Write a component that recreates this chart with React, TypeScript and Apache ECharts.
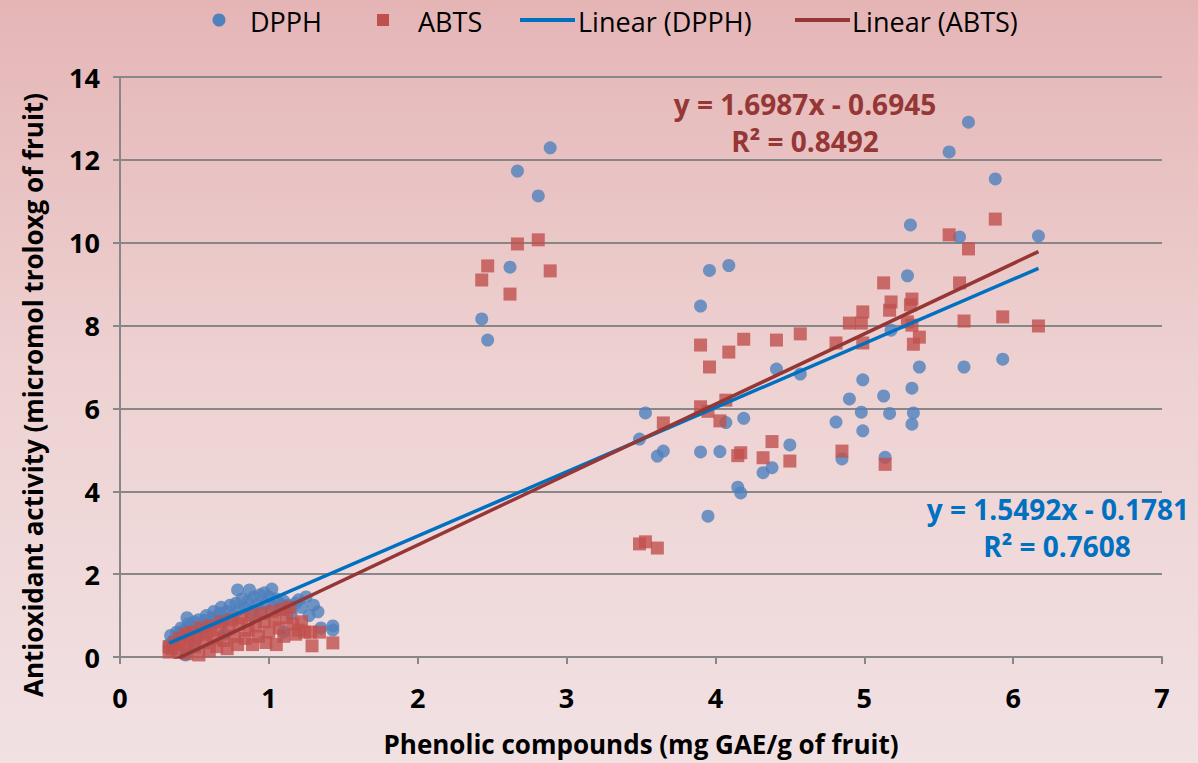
import React, { useEffect, useRef } from "react";
import * as echarts from "echarts";

// DPPH observations [phenolics, activity]
const dpphLow: number[][] = [
  [0.33, 0.3], [0.34, 0.52], [0.36, 0.4], [0.38, 0.6], [0.4, 0.55], [0.41, 0.7], [0.43, 0.65], [0.44, 0.05],
  [0.45, 0.95], [0.46, 0.8], [0.48, 0.75], [0.5, 0.85], [0.52, 0.7], [0.53, 0.9], [0.55, 0.6], [0.57, 0.88],
  [0.58, 1.0], [0.6, 0.8], [0.62, 0.95], [0.63, 1.1], [0.65, 0.9], [0.67, 1.05], [0.68, 1.2], [0.7, 0.95],
  [0.72, 1.1], [0.74, 1.25], [0.76, 1.0], [0.78, 1.3], [0.79, 1.62], [0.8, 1.15], [0.82, 1.4], [0.84, 1.2],
  [0.86, 1.35], [0.87, 1.62], [0.88, 1.05], [0.9, 1.45], [0.92, 1.25], [0.94, 1.5], [0.95, 1.1], [0.97, 1.55],
  [0.98, 1.3], [1.0, 1.45], [1.02, 1.64], [1.03, 1.2], [1.05, 1.4], [1.07, 1.3], [1.09, 1.15], [1.1, 1.35],
  [1.13, 1.25], [1.15, 1.05], [1.18, 1.3], [1.2, 1.38], [1.22, 1.2], [1.25, 1.45], [1.27, 1.0], [1.3, 1.25],
  [1.33, 1.09], [1.35, 0.7], [1.43, 0.75], [1.43, 0.65], [0.5, 0.3], [0.7, 0.55], [1.1, 0.6],
];
const dpphMid: number[][] = [
  [2.43, 8.16], [2.47, 7.65], [2.62, 9.41], [2.67, 11.73], [2.81, 11.13], [2.89, 12.29],
  [3.49, 5.26], [3.53, 5.89], [3.61, 4.85], [3.65, 4.97], [3.9, 4.95], [3.9, 8.47], [3.95, 3.4], [3.96, 9.33],
  [4.03, 4.96], [4.07, 5.66], [4.09, 9.45], [4.15, 4.1], [4.17, 3.96], [4.19, 5.76], [4.32, 4.45], [4.38, 4.57],
  [4.41, 6.95], [4.5, 5.12], [4.57, 6.83],
];
const dpphHigh: number[][] = [
  [4.81, 5.67], [4.85, 4.78], [4.9, 6.23], [4.98, 5.91], [4.99, 5.46], [4.99, 6.69], [5.13, 6.3], [5.14, 4.82],
  [5.17, 5.88], [5.18, 7.89], [5.29, 9.2], [5.31, 10.43], [5.32, 6.49], [5.33, 5.89], [5.32, 5.62], [5.37, 7.0],
  [5.57, 12.19], [5.64, 10.14], [5.67, 7.0], [5.7, 12.91], [5.88, 11.54], [5.93, 7.19], [6.17, 10.16],
];

// ABTS observations [phenolics, activity]
const abtsLow: number[][] = [
  [0.33, 0.12], [0.33, 0.25], [0.35, 0.2], [0.37, 0.35], [0.39, 0.15], [0.4, 0.45], [0.42, 0.3], [0.44, 0.55],
  [0.45, 0.08], [0.46, 0.4], [0.48, 0.6], [0.5, 0.25], [0.51, 0.5], [0.53, 0.05], [0.54, 0.7], [0.56, 0.35],
  [0.58, 0.55], [0.6, 0.15], [0.61, 0.75], [0.63, 0.45], [0.65, 0.25], [0.66, 0.65], [0.68, 0.85], [0.7, 0.4],
  [0.72, 0.2], [0.73, 0.7], [0.75, 0.9], [0.77, 0.5], [0.79, 0.3], [0.8, 0.8], [0.82, 0.95], [0.84, 0.45],
  [0.86, 0.65], [0.88, 1.0], [0.89, 0.3], [0.91, 0.75], [0.93, 0.5], [0.95, 1.05], [0.97, 0.85], [0.98, 0.35],
  [1.0, 0.6], [1.02, 1.1], [1.04, 0.9], [1.05, 0.3], [1.07, 0.7], [1.09, 1.15], [1.1, 0.5], [1.12, 0.95],
  [1.14, 1.2], [1.16, 0.8], [1.18, 0.55], [1.2, 0.65], [1.22, 0.85], [1.24, 0.6], [1.28, 0.6], [1.29, 0.27],
  [1.34, 0.6], [1.43, 0.34],
];
const abtsMid: number[][] = [
  [2.43, 9.1], [2.47, 9.44], [2.62, 8.76], [2.67, 9.97], [2.81, 10.07], [2.89, 9.32],
  [3.49, 2.73], [3.53, 2.78], [3.61, 2.63], [3.65, 5.65], [3.9, 6.04], [3.9, 7.53], [3.95, 5.93], [3.96, 7.0],
  [4.03, 5.7], [4.07, 6.2], [4.09, 7.36], [4.15, 4.86], [4.17, 4.93], [4.19, 7.67], [4.32, 4.81], [4.38, 5.2],
  [4.41, 7.65], [4.5, 4.73], [4.57, 7.8],
];
const abtsHigh: number[][] = [
  [4.81, 7.58], [4.85, 4.97], [4.9, 8.06], [4.98, 8.06], [4.99, 8.33], [4.99, 7.58], [5.13, 9.03], [5.14, 4.65],
  [5.17, 8.37], [5.18, 8.57], [5.29, 8.09], [5.31, 8.5], [5.32, 8.64], [5.32, 8.01], [5.33, 7.55], [5.37, 7.72],
  [5.57, 10.19], [5.64, 9.03], [5.67, 8.11], [5.7, 9.85], [5.88, 10.57], [5.93, 8.21], [6.17, 7.99],
];

const dpphFit = { slope: 1.5492, intercept: -0.1781, r2: 0.7608 };
const abtsFit = { slope: 1.6987, intercept: -0.6945, r2: 0.8492 };

const xTicks = { min: 0, max: 7, interval: 1 };
const yTicks = { min: 0, max: 14, interval: 2 };

const C_DPPH = "#4f81bd";
const C_ABTS = "#c0504d";
const C_LDPPH = "#0070c0";
const C_LABTS = "#953735";
const FONT = "'Open Sans', 'Liberation Sans', sans-serif";

function trend(data: number[][], fit: { slope: number; intercept: number }) {
  const xs = data.map((d) => d[0]);
  const lo = Math.min(...xs);
  const hi = Math.max(...xs);
  return [
    [lo, fit.slope * lo + fit.intercept],
    [hi, fit.slope * hi + fit.intercept],
  ];
}

export default function App() {
  const ref = useRef<HTMLDivElement>(null);
  useEffect(() => {
    document.body.style.margin = "0";
    const chart = echarts.init(ref.current!, undefined, { renderer: "svg" });
    const dpph = [...dpphLow, ...dpphMid, ...dpphHigh];
    const abts = [...abtsLow, ...abtsMid, ...abtsHigh];
    const fmt = (f: { slope: number; intercept: number }) =>
      `y = ${f.slope.toFixed(4)}x - ${Math.abs(f.intercept).toFixed(4)}`;
    const gray = "#878787";
    const legendFont = `27px ${FONT}`;
    const annFont = `bold 28px ${FONT}`;
    chart.setOption({
      animation: false,
      backgroundColor: new echarts.graphic.LinearGradient(0, 0, 0, 1, [
        { offset: 0, color: "#e5b5b6" },
        { offset: 0.5, color: "#eed2d2" },
        { offset: 1, color: "#f1e1e3" },
      ]),
      grid: { left: 120, right: 36, top: 77, bottom: 106 },
      xAxis: {
        type: "value",
        ...xTicks,
        name: "Phenolic compounds (mg GAE/g of fruit)",
        nameLocation: "middle",
        nameGap: 74,
        nameTextStyle: { fontFamily: FONT, fontWeight: "bold", fontSize: 26, color: "#000" },
        axisLine: { show: true, lineStyle: { color: gray, width: 2 } },
        axisTick: { show: true, length: 7, lineStyle: { color: gray, width: 2 } },
        axisLabel: { fontFamily: FONT, fontWeight: "bold", fontSize: 27, color: "#000", margin: 27 },
        splitLine: { show: false },
      },
      yAxis: {
        type: "value",
        ...yTicks,
        name: "Antioxidant activity (micromol troloxg of fruit)",
        nameLocation: "middle",
        nameGap: 74,
        nameTextStyle: { fontFamily: FONT, fontWeight: "bold", fontSize: 26, color: "#000", padding: [0, 56, 0, 0] },
        axisLine: { show: true, lineStyle: { color: gray, width: 2 } },
        axisTick: { show: true, length: 7, lineStyle: { color: gray, width: 2 } },
        axisLabel: { fontFamily: FONT, fontWeight: "bold", fontSize: 27, color: "#000", margin: 20 },
        splitLine: { show: true, lineStyle: { color: gray, width: 2 } },
      },
      series: [
        { name: "DPPH", type: "scatter", data: dpph, symbol: "circle", symbolSize: 13, itemStyle: { color: C_DPPH } },
        { name: "ABTS", type: "scatter", data: abts, symbol: "rect", symbolSize: 13, itemStyle: { color: C_ABTS } },
        {
          name: "Linear (DPPH)", type: "line", data: trend(dpph, dpphFit), symbol: "none", clip: true,
          lineStyle: { color: C_LDPPH, width: 3.5 }, z: 5,
        },
        {
          name: "Linear (ABTS)", type: "line", data: trend(abts, abtsFit), symbol: "none", clip: true,
          lineStyle: { color: C_LABTS, width: 3.5 }, z: 5,
        },
      ],
      graphic: [
        { type: "circle", shape: { cx: 219, cy: 20, r: 6.5 }, style: { fill: C_DPPH } },
        { type: "text", x: 250, y: 21, style: { text: "DPPH", font: legendFont, fill: "#000", verticalAlign: "middle" } },
        { type: "rect", shape: { x: 377, y: 14, width: 12, height: 12 }, style: { fill: C_ABTS } },
        { type: "text", x: 418, y: 21, style: { text: "ABTS", font: legendFont, fill: "#000", verticalAlign: "middle" } },
        { type: "line", shape: { x1: 520, y1: 20, x2: 575, y2: 20 }, style: { stroke: C_LDPPH, lineWidth: 4 } },
        { type: "text", x: 578, y: 21, style: { text: "Linear (DPPH)", font: legendFont, fill: "#000", verticalAlign: "middle" } },
        { type: "line", shape: { x1: 795, y1: 20, x2: 850, y2: 20 }, style: { stroke: C_LABTS, lineWidth: 4 } },
        { type: "text", x: 852, y: 21, style: { text: "Linear (ABTS)", font: legendFont, fill: "#000", verticalAlign: "middle" } },
        { type: "text", x: 805, y: 104, style: { text: fmt(abtsFit), font: annFont, fill: C_LABTS, align: "center", verticalAlign: "middle" } },
        { type: "text", x: 805, y: 141, style: { text: `R² = ${abtsFit.r2.toFixed(4)}`, font: annFont, fill: C_LABTS, align: "center", verticalAlign: "middle" } },
        { type: "text", x: 1189, y: 509, style: { text: fmt(dpphFit), font: annFont, fill: C_LDPPH, align: "right", verticalAlign: "middle" } },
        { type: "text", x: 1057, y: 546, style: { text: `R² = ${dpphFit.r2.toFixed(4)}`, font: annFont, fill: C_LDPPH, align: "center", verticalAlign: "middle" } },
      ],
    });
    return () => chart.dispose();
  }, []);
  return <div ref={ref} style={{ position: "fixed", left: 0, top: 0, width: 1198, height: 763 }} />;
}
